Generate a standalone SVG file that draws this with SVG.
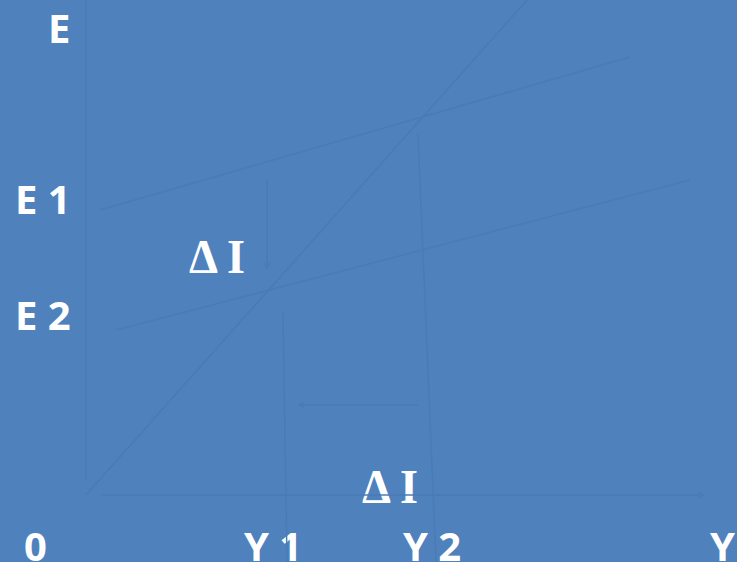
<svg xmlns="http://www.w3.org/2000/svg" width="737" height="562" viewBox="0 0 737 562">
<style>
.ln{stroke:#4A7BB7;stroke-width:1.5;fill:none}
.lab{font-family:"Open Sans","Liberation Sans",sans-serif;font-weight:bold;font-size:40px;fill:#fff}
.di{font-family:"Liberation Serif","DejaVu Serif",serif;font-weight:bold;font-size:48px;fill:#fff}
</style>
<defs>
<marker id="ah" viewBox="0 0 10 10" refX="9" refY="5" markerWidth="7" markerHeight="7" orient="auto" markerUnits="userSpaceOnUse">
<path d="M0,0 L10,5 L0,10" fill="none" stroke="#4A7BB7" stroke-width="1.5"/>
</marker>
</defs>
<rect width="737" height="562" fill="#4F81BD"/>
<g id="labels">
<text class="lab" x="48" y="43">E</text>
<text class="lab" x="15" y="214">E 1</text>
<text class="lab" x="15" y="330">E 2</text>
<text class="lab" x="24" y="561">0</text>
<text class="lab" x="244" y="561">Y 1</text>
<text class="lab" x="403" y="561">Y 2</text>
<text class="lab" x="710" y="561">Y</text>
<text class="di" x="189" y="273" textLength="56" lengthAdjust="spacingAndGlyphs">Δ I</text>
<text class="di" x="362" y="503" textLength="56" lengthAdjust="spacingAndGlyphs">Δ I</text>
</g>
<g id="connectors">
<line class="ln" x1="86" y1="0" x2="86" y2="480"/>
<line class="ln" x1="101" y1="495" x2="703" y2="495" marker-end="url(#ah)"/>
<line class="ln" x1="86" y1="495" x2="527" y2="0"/>
<line class="ln" x1="100" y1="210" x2="630" y2="57"/>
<line class="ln" x1="116" y1="330" x2="690" y2="180"/>
<line class="ln" x1="283" y1="313" x2="287" y2="562"/>
<line class="ln" x1="418" y1="134" x2="436" y2="562"/>
<line class="ln" x1="267" y1="179" x2="267" y2="268" marker-end="url(#ah)"/>
<line class="ln" x1="418" y1="405" x2="299" y2="405" marker-end="url(#ah)"/>
</g>
</svg>
